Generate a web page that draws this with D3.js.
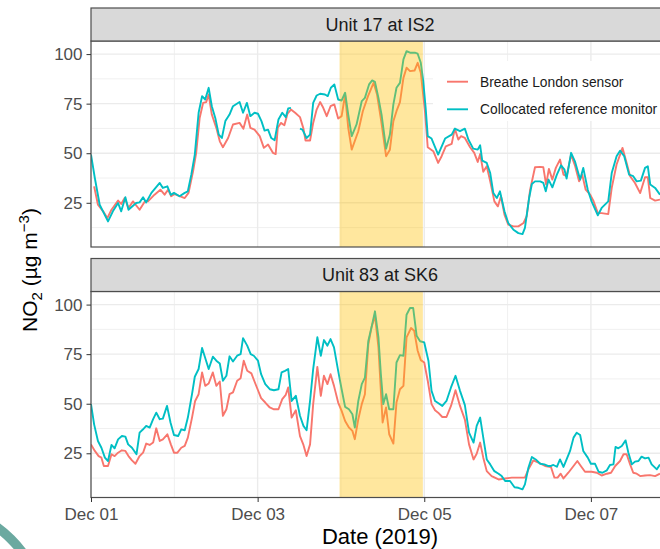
<!DOCTYPE html>
<html>
<head>
<meta charset="utf-8">
<script src="https://cdn.jsdelivr.net/npm/d3@7"></script>
<style>
body { margin: 0; background: #fff; }
svg { display: block; font-family: "Liberation Sans", Arial, sans-serif; }
</style>
</head>
<body>
<svg width="660" height="549"></svg>
<script>
// hours since 2019-12-01 00:00, NO2 in ug/m3 (null = missing)
var is2Sensor = [[0.9,33.3],[2,24],[3.5,20.7],[4.7,17.3],[5.9,21.5],[7.8,26.1],[8.7,24.4],[9.7,27.4],[10.8,22.4],[12.1,25.7],[14,21.5],[15.5,25.7],[16.4,25.7],[18.3,29.1],[20,31.6],[21.2,29.1],[22.2,31.6],[23.1,28.3],[24.1,29.4],[27,27.4],[28.1,30],[29.4,40.9],[30.3,50.2],[31.3,67.8],[32.3,75.4],[33.2,75.8],[33.9,79.6],[34.8,69.5],[36.1,62.8],[37.1,56],[38,53],[39.5,57.7],[40.9,64.5],[42.8,65.3],[43.9,62.3],[45,69.5],[45.9,62.8],[47.1,61.9],[48.6,58.6],[49.8,52.7],[51,54.4],[52.4,50.2],[53.2,49.6],[53.8,62.8],[54.7,65.3],[55.7,64.1],[56.6,69.9],[57.6,72],[58.8,70.4],[60.2,68.2],[61.2,62.4],[61.8,56.4],[63.1,56.4],[64,65.3],[65,72],[66,75.8],[66.9,72.9],[67.9,68.7],[69,73.7],[70.1,74.6],[71.2,67.5],[72.2,68.7],[73.2,79.5],[74.1,62.8],[75.1,51.8],[77,61.1],[78.3,71.2],[79.8,78.8],[81.4,85.5],[82.4,79.6],[83.6,66.2],[85,48.5],[86.1,51.8],[87.1,66.2],[88,71.2],[89,75.8],[90,88],[90.9,93.1],[91.9,91.4],[93.2,91.7],[94.1,95.6],[95,90.6],[96.2,71.2],[97,53],[98.6,51],[100,45.1],[101,48.5],[102.2,53.5],[103.9,54.7],[104.8,62.4],[105.8,56.9],[106.6,58.6],[107.7,57.7],[109.2,53],[110.4,50.2],[111.4,45.6],[112.1,49.6],[113,40.6],[114,43.4],[115,35.8],[116.2,25.7],[117.2,23.2],[118.1,28.3],[119.1,19],[120.2,14],[121.7,13.1],[123.1,13.1],[124.6,14.8],[125.5,18.2],[126.5,31.6],[127.9,42.9],[129.4,43.1],[130.3,42.9],[131.1,34.2],[131.9,42.1],[132.9,36.7],[133.9,42.6],[135.1,46.8],[136.1,39.2],[137,38.4],[138.3,49.3],[139.4,43.9],[140.6,35.8],[141.5,39.2],[142.5,31.6],[143.8,29.1],[144.7,26.1],[146,19.8],[147.1,19.8],[149,19.3],[150,32.5],[151.4,44.3],[153.1,52.7],[154.3,45.1],[155.3,38.4],[156.7,35],[158.2,29.9],[159.6,37.9],[160.4,37.9],[161.1,27.4],[162.5,26.1],[163.9,26.6]];

var is2Reference = [[0,49.3],[1.1,37.5],[2.5,24],[4.9,15.6],[6.3,20.7],[7.8,24.9],[8.7,20.7],[9.9,27.8],[10.8,21.5],[13,24.9],[14,25.2],[15,27.8],[15.9,25.2],[17.4,30],[19.8,35],[20.7,32.5],[22,33.3],[23,29],[23.9,30],[25.5,28.3],[27,30],[27.9,30.8],[28.9,39.2],[29.9,49.3],[31,70.4],[32,78.8],[32.9,77.1],[33.9,83],[34.8,73.7],[35.8,67.8],[36.8,59.4],[37.7,57.7],[38.7,66.2],[39.9,69.5],[40.9,73.7],[42.8,75.8],[43.8,70.4],[44.9,75.4],[45.9,68.7],[47.1,70.4],[48.1,69.9],[49.1,66.2],[50,61.4],[51,61.9],[51.9,57.7],[52.9,56.6],[54,67],[55.1,70.4],[56.1,68.2],[56.8,72.6],[57.6,72.9],[59,null],[60.2,62.4],[60.9,61.9],[62.1,57.7],[63.1,59.4],[64,75.4],[65,79.1],[66,80],[67.4,79.6],[68.2,78.8],[69.1,83],[70.1,84.7],[71.2,77.1],[72.2,76.6],[73.2,80.5],[74.1,69.5],[75.1,58.6],[76.5,64.5],[78,76.3],[78.9,77.9],[80.1,84.7],[81,86.7],[81.8,86],[82.8,77.9],[83.7,69.5],[85,52.3],[86.1,59.4],[87.1,74.6],[88,83],[89,85.5],[90,97.3],[90.9,101.5],[91.9,100.7],[93.3,100.7],[94.1,100.2],[95,95.6],[95.7,86.4],[96.4,72.9],[97,58.6],[98.1,57.4],[100,49.3],[102,57.4],[103.9,59.4],[104.8,62.4],[106.3,61.1],[107.7,62.4],[108.7,56.9],[110.1,52.3],[111.4,51.8],[112.1,54],[112.7,46.3],[114,45.1],[115,40],[115.9,29.9],[116.9,27.4],[117.8,30.8],[119.1,20.7],[120.2,14.8],[121.7,11.4],[123.1,9.7],[124.3,9.2],[125,12.3],[126.2,27.4],[127,34.5],[127.9,35.8],[129.4,35.8],[130.3,35],[131,30.8],[131.8,36.7],[132.9,32.8],[134.2,39.2],[135.4,43.9],[136.4,41.7],[137,37.2],[138.3,50.2],[139.4,45.9],[140.9,36.7],[141.8,42.6],[143.1,31.6],[144.2,25.7],[146,18.7],[147.1,22.4],[149,25.7],[150,40],[151.4,48.5],[152.4,51.3],[153.6,48.5],[155,39.2],[156.2,38.4],[157.2,35.8],[158.4,36.2],[159.6,42.6],[160.4,43.4],[161.1,34.2],[162.5,32.5],[163.9,29.1]];

var sk6Sensor = [[0,29.5],[1.1,26.2],[2.2,23.6],[3,22.8],[3.7,18.6],[4.9,18.6],[5.9,24.5],[6.8,23.6],[7.8,25.3],[8.9,26.5],[9.9,26.2],[10.8,23.6],[11.8,21.4],[12.8,19.7],[14,23.6],[15,25.3],[15.9,29.9],[16.9,29.2],[17.9,30.4],[18.8,37.6],[19.8,31.2],[20.7,32],[22,34.6],[23,29.5],[23.9,25.3],[24.9,25.3],[26,27.8],[27,28.7],[27.9,32.9],[29.1,43],[30,51.4],[31,54.8],[32,65.8],[32.9,59],[33.9,60.2],[35.1,65.8],[36.1,59],[37.1,61.2],[38,43.9],[39,47.2],[39.9,54.8],[40.9,55.7],[42.1,61.6],[43.1,62.9],[44,71.7],[45,66.6],[46.2,65.3],[47.1,61.2],[48.1,56.8],[49,52.8],[50.2,50.6],[51.5,48.1],[52.7,47.2],[54,47.2],[55.1,52.3],[56.1,54.5],[56.8,58.2],[57.8,43],[59,46.7],[60.2,33.7],[61.2,29.2],[62.1,23.6],[63.1,29.5],[64,49.8],[65.2,68.6],[66.2,54],[67.1,64.1],[68.1,59.9],[69,64.9],[70,59],[71.2,50.6],[72.2,46.4],[73.2,41.3],[74.3,38],[75.3,36.3],[76,32.1],[77,42.2],[78,49.8],[78.9,54.8],[79.9,80.1],[80.8,88.5],[81.8,94.4],[82.8,78.4],[83.5,56.5],[84,40.5],[85,48.1],[85.9,34.6],[87.1,29.9],[88,50.6],[89,57.3],[90,59],[90.9,83.5],[92.2,88.2],[93.1,86.8],[94.1,76.7],[95,72],[96,70.8],[97,61.6],[98.1,49.8],[99.1,46.7],[100,45.5],[101.2,43.3],[102.4,43.3],[103.7,48.9],[105,56.8],[106.3,48.9],[107.7,42],[108.9,29.5],[110.2,21.9],[111.1,24.8],[112.1,30.4],[113,22.8],[114,16],[115.4,13.5],[117.4,11.8],[119.3,12.3],[121.2,12.7],[123.1,12.7],[125,12.7],[126,16.9],[127.4,21.4],[128.9,20.3],[130.8,18.6],[132.5,18.1],[133.5,12.7],[134.4,12.7],[135.3,14.7],[136.1,12.3],[137.5,15.2],[139,18.6],[140.1,21.1],[141.1,18.6],[142.3,15.7],[144.2,15.7],[145.7,15.2],[147.1,13.8],[148.6,14.7],[149.8,15.2],[151,18.6],[152.4,21.1],[153.4,24.5],[154.3,24.5],[155.3,19.4],[156.2,15.2],[157.2,14.7],[158.2,13.5],[159.6,13.8],[161,14],[162.5,13.5],[163.9,14.7]];

var sk6Reference = [[0,49.8],[0.9,39.6],[2,31.2],[3,27.8],[4,22.8],[4.9,21.1],[5.9,29.2],[6.8,27.5],[7.8,32],[8.9,33.7],[9.9,33.4],[10.7,29.5],[11.8,27.8],[13.1,24.5],[14,35.4],[15,37.1],[15.9,38.8],[16.9,38],[17.9,42.2],[18.8,45.5],[19.8,42.2],[20.7,42.5],[21.9,48.9],[22.9,40.5],[23.9,34.2],[25.1,33.7],[26,37.1],[27,36.6],[27.9,43],[29.1,54.8],[29.9,63.6],[31,67.5],[32,78.1],[32.7,74.2],[33.9,67.5],[35.1,73.7],[36.1,71.7],[37.1,70.3],[38,61.6],[39,64.1],[39.9,73.9],[40.9,71.3],[42.1,74.2],[43.1,75],[43.8,83.1],[45,79.3],[46,75],[46.9,74.2],[48.1,71.7],[49,64.9],[50.2,59.9],[51.5,57.3],[52.7,56.8],[54,57.3],[54.9,65.8],[55.9,66.6],[56.8,67.5],[57.8,51.4],[59,54],[60.2,43.9],[61.2,38.8],[62.1,36.6],[63.1,51.4],[64,67.5],[65.2,83.5],[66.2,74.2],[67.1,82.1],[68.1,79.3],[69,82.6],[70,78.4],[71.2,66.6],[72.2,57.3],[73.2,48.4],[74.3,47.2],[75.3,44.7],[76,38],[77,51.4],[78,59.9],[78.9,63.2],[79.9,81.8],[80.8,88.5],[81.8,96.6],[82.8,83.5],[83.5,64.9],[84.2,49.8],[85,54.8],[85.9,47.2],[87.1,47.2],[88,70.8],[89,74.5],[90,74.2],[90.9,94.9],[91.9,98.3],[92.8,98.3],[93.8,84.3],[94.8,81.5],[96,80.9],[97.2,71.7],[98.1,56.5],[99.1,51.4],[100.2,50.1],[101.2,48.9],[102.4,51.4],[103.7,58.2],[105,64.1],[106.3,56.5],[107.7,49.3],[108.9,35.4],[110.2,30.4],[111.1,38.8],[112.1,43],[113,32.9],[114,21.9],[115,19.4],[116.2,16],[117.4,14.7],[118.3,13.5],[119.3,11],[120.7,11],[122,7.9],[123.1,7.6],[124.3,6.8],[125,9.3],[126,17.7],[127,23.1],[128.1,21.9],[129.4,19.7],[130.6,19.4],[131.6,18.6],[132.5,18.6],[133.2,19.1],[134.2,18.2],[135.1,21.9],[136.1,18.1],[137,21.9],[138,26.2],[139,32.9],[139.9,35.4],[140.9,34.2],[141.8,26.2],[143.1,22.8],[144,19.7],[145.2,19.7],[146.2,15.7],[147.3,15.2],[148.6,16.4],[149.5,19.1],[150.5,19.4],[151.1,28.2],[151.9,27.5],[152.9,28.7],[154,31.5],[154.8,25.3],[155.8,19.4],[156.7,20.8],[157.7,21.1],[158.6,23.3],[159.6,22.4],[160.6,22.8],[161.5,19.4],[163,16.9],[163.9,19.4]];

var facetTitles = ["Unit 17 at IS2", "Unit 83 at SK6"];
var seriesNames = ["Breathe London sensor", "Collocated reference monitor"];
var highlightHours = [71.6, 95.6];
var dateTickHours = [0, 48, 96, 144];
var minorDateHours = [24, 72, 120];
var yTicks = [25, 50, 75, 100];
var yMinor = [12.5, 37.5, 62.5, 87.5];

var svg = d3.select("svg"),
    width = +svg.attr("width"),
    height = +svg.attr("height");

var left = 91, right = 669,
    stripH = 33, panelH = 206,
    panelTops = [41, 291.5];

var colors = ["#F8766D", "#00BFC4"];
var start = Date.UTC(2019, 11, 1);
function toDate(h) { return new Date(start + h * 3600e3); }

var x = d3.scaleUtc().domain([toDate(0), toDate(166.5)]).range([left, right]);
var y = d3.scaleLinear().domain([2.7, 106.6]).range([panelH, 0]);

var line = d3.line()
    .defined(function(d) { return d[1] != null; })
    .x(function(d) { return x(toDate(d[0])); })
    .y(function(d) { return y(d[1]); });

// slide decoration in the corner
svg.append("circle")
    .attr("cx", -70).attr("cy", 620).attr("r", 114.5)
    .attr("fill", "none").attr("stroke", "#6BA9A0").attr("stroke-width", 9.5);

svg.append("defs").append("clipPath").attr("id", "clip")
  .append("rect")
    .attr("x", left).attr("y", 0)
    .attr("width", right - left).attr("height", panelH);

var facets = [
    { title: facetTitles[0], series: [is2Sensor, is2Reference] },
    { title: facetTitles[1], series: [sk6Sensor, sk6Reference] }
];

facets.forEach(function(f, i) {
    var g = svg.append("g").attr("transform", "translate(0," + panelTops[i] + ")");

    // grid
    var grid = g.append("g");
    grid.selectAll(".vminor").data(minorDateHours).enter().append("line")
        .attr("x1", function(d) { return x(toDate(d)); })
        .attr("x2", function(d) { return x(toDate(d)); })
        .attr("y1", 0).attr("y2", panelH)
        .attr("stroke", "#F0F0F0").attr("stroke-width", 1);
    grid.selectAll(".hminor").data(yMinor).enter().append("line")
        .attr("x1", left).attr("x2", right)
        .attr("y1", function(d) { return y(d); })
        .attr("y2", function(d) { return y(d); })
        .attr("stroke", "#F0F0F0").attr("stroke-width", 1);
    grid.selectAll(".vmajor").data(dateTickHours).enter().append("line")
        .attr("x1", function(d) { return x(toDate(d)); })
        .attr("x2", function(d) { return x(toDate(d)); })
        .attr("y1", 0).attr("y2", panelH)
        .attr("stroke", "#EBEBEB").attr("stroke-width", 1.4);
    grid.selectAll(".hmajor").data(yTicks).enter().append("line")
        .attr("x1", left).attr("x2", right)
        .attr("y1", function(d) { return y(d); })
        .attr("y2", function(d) { return y(d); })
        .attr("stroke", "#EBEBEB").attr("stroke-width", 1.4);

    // lines
    g.append("g").attr("clip-path", "url(#clip)")
      .selectAll("path")
      .data(f.series)
      .enter().append("path")
        .attr("d", line)
        .attr("fill", "none")
        .attr("stroke", function(d, j) { return colors[j]; })
        .attr("stroke-width", 1.9)
        .attr("stroke-linejoin", "round");

    // highlighted episode
    g.append("rect")
        .attr("x", x(toDate(highlightHours[0])))
        .attr("width", x(toDate(highlightHours[1])) - x(toDate(highlightHours[0])))
        .attr("y", 0).attr("height", panelH)
        .attr("fill", "#FFC000").attr("fill-opacity", 0.38);

    // border
    g.append("rect")
        .attr("x", left).attr("y", 0)
        .attr("width", right - left).attr("height", panelH)
        .attr("fill", "none").attr("stroke", "#4D4D4D").attr("stroke-width", 1.2);

    // strip
    g.append("rect")
        .attr("x", left).attr("y", -stripH)
        .attr("width", right - left).attr("height", stripH)
        .attr("fill", "#D9D9D9").attr("stroke", "#4D4D4D").attr("stroke-width", 1.2);
    g.append("text")
        .attr("x", (left + right) / 2).attr("y", -stripH / 2)
        .attr("dy", "0.35em")
        .attr("text-anchor", "middle")
        .attr("font-size", 18).attr("fill", "#1A1A1A")
        .text(f.title);

    // y axis
    var ya = g.append("g")
        .attr("transform", "translate(" + left + ",0)")
        .call(d3.axisLeft(y).tickValues(yTicks).tickSize(4.5).tickPadding(4));
    ya.select(".domain").remove();
    ya.selectAll("line").attr("stroke", "#333");
    ya.selectAll("text").attr("font-size", 17).attr("fill", "#4D4D4D")
        .attr("font-family", "Liberation Sans, Arial, sans-serif");

    if (i === 1) {
        var xa = g.append("g")
            .attr("transform", "translate(0," + panelH + ")")
            .call(d3.axisBottom(x)
                .tickValues(dateTickHours.map(toDate))
                .tickFormat(d3.utcFormat("%b %d"))
                .tickSize(4.5).tickPadding(6));
        xa.select(".domain").remove();
        xa.selectAll("line").attr("stroke", "#333");
        xa.selectAll("text").attr("font-size", 17).attr("fill", "#4D4D4D")
            .attr("font-family", "Liberation Sans, Arial, sans-serif");
    }

    if (i === 0) {
        var lg = g.append("g");
        lg.append("rect")
            .attr("x", 433).attr("y", 20)
            .attr("width", right - 433).attr("height", 60)
            .attr("fill", "#fff");
        var items = lg.selectAll(".item").data(seriesNames).enter().append("g")
            .attr("transform", function(d, j) { return "translate(0," + (40.7 + j * 27.6) + ")"; });
        items.append("line")
            .attr("x1", 447).attr("x2", 468)
            .attr("stroke", function(d, j) { return colors[j]; })
            .attr("stroke-width", 1.9);
        items.append("text")
            .attr("x", 480).attr("dy", "0.35em")
            .attr("font-size", 13.8).attr("fill", "#1A1A1A")
            .text(function(d) { return d; });
    }
});

// axis titles
svg.append("text")
    .attr("x", (left + right) / 2).attr("y", 544)
    .attr("text-anchor", "middle")
    .attr("font-size", 22).attr("fill", "#000")
    .text("Date (2019)");

var yt = svg.append("text")
    .attr("transform", "translate(37,270) rotate(-90)")
    .attr("text-anchor", "middle")
    .attr("font-size", 21).attr("fill", "#000");
yt.append("tspan").text("NO");
yt.append("tspan").attr("font-size", 15).attr("dy", 5).text("2");
yt.append("tspan").attr("dy", -5).text(" (\u00B5g m");
yt.append("tspan").attr("font-size", 15).attr("dy", -8).text("\u22123");
yt.append("tspan").attr("dy", 8).text(")");
</script>
</body>
</html>
